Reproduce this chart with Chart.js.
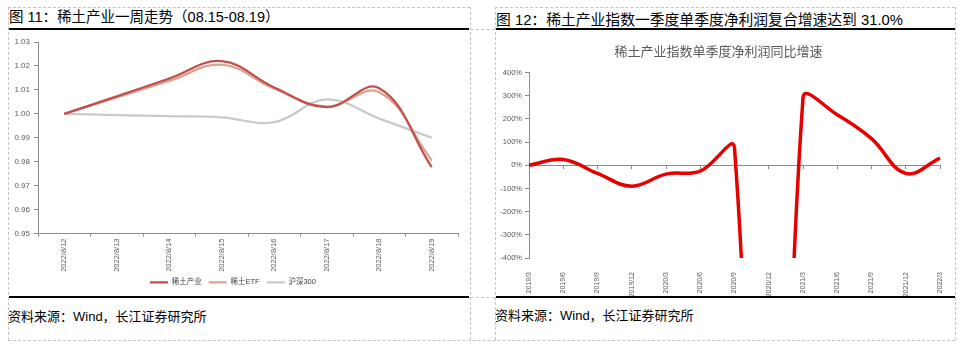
<!DOCTYPE html>
<html>
<head>
<meta charset="utf-8">
<script src="https://cdn.jsdelivr.net/npm/chart.js@4/dist/chart.umd.min.js"></script>
<style>
  body { margin: 0; background: #fff; font-family: 'Liberation Sans', 'Noto Sans CJK SC', sans-serif; }
  #page { position: relative; width: 973px; height: 346px; overflow: hidden; }
  .dash { position: absolute; border-color: #c4c4c4; border-style: dashed; border-width: 0; }
  .rule { position: absolute; height: 2px; background: #000; }
  .title { position: absolute; font-size: 14.5px; color: #000; white-space: nowrap; line-height: 16px; }
  .src { position: absolute; font-size: 13px; color: #000; white-space: nowrap; line-height: 16px; }
  canvas { position: absolute; }
</style>
</head>
<body>
<div id="page">
  <!-- table cell borders -->
  <div class="dash" style="left:8px;top:7px;width:462px;border-top-width:1px"></div>
  <div class="dash" style="left:495px;top:7px;width:460px;border-top-width:1px"></div>
  <div class="dash" style="left:8px;top:7px;height:333px;border-left-width:1px"></div>
  <div class="dash" style="left:470px;top:7px;height:333px;border-left-width:1px"></div>
  <div class="dash" style="left:495px;top:7px;height:333px;border-left-width:1px"></div>
  <div class="dash" style="left:955px;top:7px;height:333px;border-left-width:1px"></div>
  <div class="dash" style="left:470px;top:29px;width:25px;border-top-width:1px"></div>
  <div class="dash" style="left:470px;top:297px;width:25px;border-top-width:1px"></div>
  <div class="dash" style="left:8px;top:340px;width:947px;border-top-width:1px"></div>

  <div class="title" style="left:9px;top:9px">图 11：稀土产业一周走势（08.15-08.19）</div>
  <div class="title" style="left:496px;top:12px;font-size:14.8px">图 12：稀土产业指数一季度单季度净利润复合增速达到 31.0%</div>
  <div class="rule" style="left:9px;top:28px;width:460px"></div>
  <div class="rule" style="left:496px;top:28px;width:459px"></div>
  <div class="rule" style="left:9px;top:296px;width:460px"></div>
  <div class="rule" style="left:496px;top:296px;width:459px"></div>
  <div class="src" style="left:8px;top:309px">资料来源：Wind，长江证券研究所</div>
  <div class="src" style="left:495px;top:308px">资料来源：Wind，长江证券研究所</div>

  <canvas id="weekChart" width="462" height="266" style="left:8px;top:30px"></canvas>
  <canvas id="profitChart" width="458" height="266" style="left:497px;top:30px"></canvas>
</div>

<script>
// 图11 一周走势
const days = ['2022/8/12', '2022/8/13', '2022/8/14', '2022/8/15', '2022/8/16', '2022/8/17', '2022/8/18', '2022/8/19'];
const rareEarth = [1.000, 1.0073, 1.0147, 1.0220, 1.0110, 1.0028, 1.0107, 0.9777];
const rareEtf = [1.000, 1.0068, 1.0137, 1.0205, 1.0105, 1.0030, 1.0090, 0.9805];
const hs300 = [1.000, 0.9995, 0.9990, 0.9985, 0.9965, 1.0060, 0.9980, 0.9900];

// 图12 单季度净利润同比增速 (%)
const quarters = ['2019/3', '2019/6', '2019/9', '2019/12', '2020/3', '2020/6', '2020/9', '2020/12', '2021/3', '2021/6', '2021/9', '2021/12', '2022/3'];
const profitGrowth = [0, 25, -35, -90, -38, -25, 75, -4000, 290, 218, 115, -35, 31];
const growthTicks = [-400, -300, -200, -100, 0, 100, 200, 300, 400];

const axisGray = '#8c8c8c';
const tickGray = '#595959';
Chart.defaults.font.family = "'Liberation Sans', 'Noto Sans CJK SC', sans-serif";

new Chart(document.getElementById('weekChart'), {
    type: 'line',
    data: {
        labels: days,
        datasets: [
            { label: '稀土产业', data: rareEarth, borderColor: '#c0504d', backgroundColor: '#c0504d', borderWidth: 2.25, tension: 0.4, pointRadius: 0 },
            { label: '稀土ETF', data: rareEtf, borderColor: '#dba38f', backgroundColor: '#dba38f', borderWidth: 2.25, tension: 0.4, pointRadius: 0 },
            { label: '沪深300', data: hs300, borderColor: '#c9c9c9', backgroundColor: '#c9c9c9', borderWidth: 2.25, tension: 0.4, pointRadius: 0 }
        ]
    },
    options: {
        responsive: false,
        devicePixelRatio: 1,
        animation: false,
        layout: { padding: { left: 0, right: 12, top: 12, bottom: 0 } },
        plugins: {
            tooltip: { enabled: false },
            legend: {
                position: 'bottom',
                labels: {
                    usePointStyle: true,
                    pointStyle: 'line',
                    pointStyleWidth: 18,
                    boxHeight: 8,
                    padding: 7,
                    color: '#404040',
                    font: { size: 7.5 }
                }
            }
        },
        scales: {
            x: {
                offset: true,
                grid: { offset: true, drawOnChartArea: false, drawTicks: true, tickLength: 3, color: axisGray },
                border: { color: axisGray },
                ticks: { minRotation: 90, maxRotation: 90, autoSkip: false, color: tickGray, font: { size: 7.5 }, padding: 2 },
                afterFit: (scale) => { scale.height = 38; }
            },
            y: {
                min: 0.95,
                max: 1.03,
                ticks: { stepSize: 0.01, color: tickGray, font: { size: 8 }, padding: 4, callback: (v) => v.toFixed(2) },
                grid: { drawOnChartArea: false, drawTicks: true, tickLength: 4, color: axisGray },
                border: { color: axisGray },
                afterFit: (scale) => { scale.width = 30; }
            }
        }
    }
});

new Chart(document.getElementById('profitChart'), {
    type: 'line',
    data: {
        labels: quarters,
        datasets: [
            { label: '稀土产业指数单季度净利润同比增速', data: profitGrowth, borderColor: '#e60000', borderWidth: 3.5, tension: 0.4, pointRadius: 0, xAxisID: 'x' }
        ]
    },
    options: {
        responsive: false,
        devicePixelRatio: 1,
        animation: false,
        layout: { padding: { left: 0, right: 15, top: 0, bottom: 0 } },
        plugins: {
            tooltip: { enabled: false },
            legend: { display: false },
            title: {
                display: true,
                text: '稀土产业指数单季度净利润同比增速',
                color: '#595959',
                font: { size: 13, weight: 'normal' },
                padding: { top: 15, bottom: 12 }
            }
        },
        scales: {
            x: {
                position: { y: 0 },
                offset: false,
                ticks: { display: false },
                grid: { drawOnChartArea: false, drawTicks: true, tickLength: 3, color: axisGray },
                border: { color: axisGray }
            },
            xLabels: {
                type: 'category',
                axis: 'x',
                position: 'bottom',
                labels: quarters,
                offset: false,
                grid: { display: false },
                border: { display: false },
                ticks: { minRotation: 90, maxRotation: 90, autoSkip: false, color: tickGray, font: { size: 7 }, padding: 6 },
                afterFit: (scale) => { scale.height = 38; }
            },
            y: {
                min: -400,
                max: 400,
                afterBuildTicks: (scale) => { scale.ticks = growthTicks.map(v => ({ value: v })); },
                ticks: { color: tickGray, font: { size: 7.5 }, padding: 3, callback: (v) => v + '%' },
                grid: { drawOnChartArea: false, drawTicks: true, tickLength: 4, color: axisGray },
                border: { color: axisGray },
                afterFit: (scale) => { scale.width = 32; }
            }
        }
    }
});
</script>
</body>
</html>
